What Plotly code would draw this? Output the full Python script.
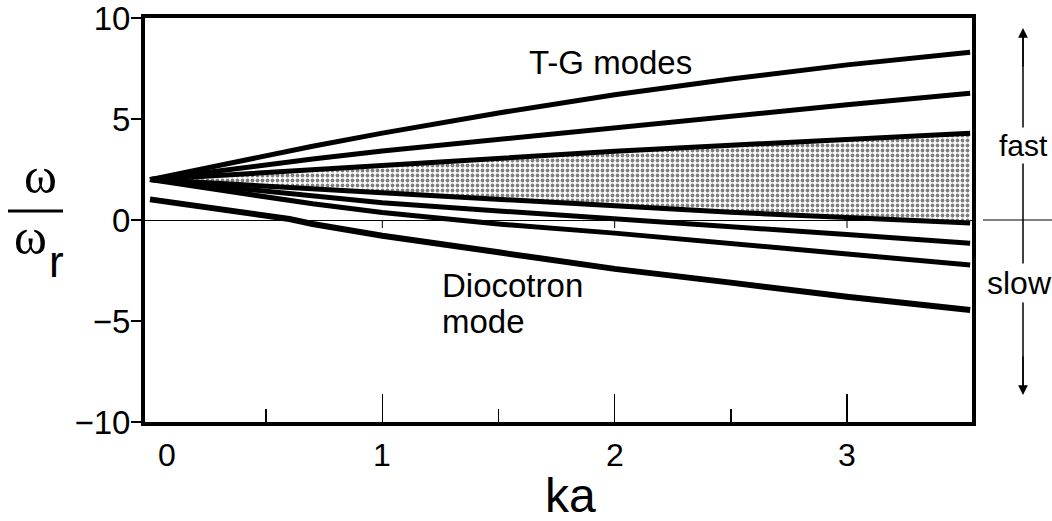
import plotly.graph_objects as go

# ---- data ----
KA = [0, 0.25, 0.5, 0.6, 0.7, 1.0, 1.5, 2.0, 2.5, 3.0, 3.53]
TG_1 = [2.0, 2.6, 3.2, 3.43, 3.65, 4.3, 5.3, 6.2, 6.98, 7.68, 8.3]
TG_2 = [2.0, 2.38, 2.75, 2.88, 3.02, 3.42, 4.0, 4.6, 5.15, 5.7, 6.27]
BAND_TOP = [2.0, 2.18, 2.36, 2.43, 2.5, 2.7, 3.07, 3.4, 3.7, 4.0, 4.3]
BAND_BOTTOM = [2.0, 1.84, 1.68, 1.62, 1.55, 1.36, 1.02, 0.68, 0.38, 0.12, -0.15]
TG_SLOW_1 = [2.0, 1.7, 1.4, 1.29, 1.18, 0.85, 0.45, 0.08, -0.3, -0.72, -1.15]
TG_SLOW_2 = [2.0, 1.55, 1.1, 0.95, 0.8, 0.37, -0.2, -0.65, -1.15, -1.68, -2.23]
DIOCOTRON = [1.02, 0.6, 0.2, 0.05, -0.2, -0.78, -1.6, -2.42, -3.1, -3.8, -4.46]

X_TICK_VALUES = [0, 1, 2, 3]
X_TICK_LABELS = ["0", "1", "2", "3"]
X_MINOR_TICKS = [0.5, 1.5, 2.5]
Y_TICK_VALUES = [-10, -5, 0, 5, 10]
Y_TICK_LABELS = ["\u221210", "\u22125", "0", "5", "10"]
ZERO_LINE_TICKS = [1, 2, 3]

FONT = "Liberation Sans, Arial, Helvetica, sans-serif"
SERIF = "Liberation Serif, Times New Roman, serif"

fig = go.Figure()

# shaded continuum band
fig.add_trace(go.Scatter(x=KA, y=BAND_BOTTOM, mode="lines",
                         line=dict(color="black", width=5), showlegend=False))
fig.add_trace(go.Scatter(x=KA, y=BAND_TOP, mode="lines", fill="tonexty",
                         fillcolor="white",
                         fillpattern=dict(shape=".", size=5, solidity=0.45,
                                          fgcolor="black", bgcolor="white",
                                          fillmode="overlay"),
                         line=dict(color="black", width=5), showlegend=False))

for ys, w in [(TG_1, 5), (TG_2, 5), (TG_SLOW_1, 5), (TG_SLOW_2, 5), (DIOCOTRON, 6)]:
    fig.add_trace(go.Scatter(x=KA, y=ys, mode="lines",
                             line=dict(color="black", width=w), showlegend=False))

fig.update_xaxes(range=[-0.0215, 3.538], showgrid=False, zeroline=False,
                 automargin=False,
                 showline=True, linecolor="black", linewidth=4, mirror=True,
                 tickvals=X_TICK_VALUES[1:], ticks="inside", ticklen=28,
                 tickwidth=1.5, tickcolor="black", showticklabels=False,
                 minor=dict(tickvals=X_MINOR_TICKS, ticks="inside", ticklen=13,
                            tickwidth=1.5, tickcolor="black"))
fig.update_yaxes(range=[-10, 10], showgrid=False, zeroline=True,
                 automargin=False, ticklabeloverflow="allow",
                 ticklabelstandoff=-6,
                 zerolinecolor="black", zerolinewidth=1,
                 showline=True, linecolor="black", linewidth=4, mirror=True,
                 tickvals=Y_TICK_VALUES, ticktext=Y_TICK_LABELS,
                 ticks="outside", ticklen=10, tickwidth=2.5, tickcolor="black",
                 tickfont=dict(family=FONT, size=33, color="black"))

ann = []
# x tick labels
for v, t in zip(X_TICK_VALUES, X_TICK_LABELS):
    ann.append(dict(x=v, y=0, xref="x", yref="paper", text=t, showarrow=False,
                    xanchor="center", yanchor="top", yshift=-13,
                    xshift=17 if v == 0 else 0,
                    font=dict(family=FONT, size=32, color="black")))
# x axis title
ann.append(dict(x=(570 - 145) / 827, y=0, xref="paper", yref="paper", text="ka",
                showarrow=False, xanchor="center", yanchor="middle",
                yshift=-(495 - 422),
                font=dict(family=FONT, size=48, color="black")))
# y axis title as fraction
ann.append(dict(x=(40 - 145) / 827, y=(220 - 176) / 20.2, xref="paper", yref="y",
                text="\u03c9", showarrow=False, xanchor="center", yanchor="middle",
                font=dict(family=SERIF, size=50, color="black")))
ann.append(dict(x=(31 - 145) / 827, y=(220 - 237) / 20.2, xref="paper", yref="y",
                text="\u03c9", showarrow=False, xanchor="center", yanchor="middle",
                font=dict(family=SERIF, size=50, color="black")))
ann.append(dict(x=(47 - 145) / 827, y=(220 - 261) / 20.2, xref="paper", yref="y",
                text="r", showarrow=False, xanchor="left", yanchor="middle",
                font=dict(family=FONT, size=44, color="black")))
# curve labels
ann.append(dict(x=(527 - 145) / 827, y=(220 - 62) / 20.2, xref="paper", yref="y",
                text="T-G modes", showarrow=False, xanchor="left", yanchor="middle",
                font=dict(family=FONT, size=33, color="black")))
ann.append(dict(x=(440 - 145) / 827, y=(220 - 285) / 20.2, xref="paper", yref="y",
                text="Diocotron", showarrow=False, xanchor="left", yanchor="middle",
                font=dict(family=FONT, size=33, color="black")))
ann.append(dict(x=(440 - 145) / 827, y=(220 - 321) / 20.2, xref="paper", yref="y",
                text="mode", showarrow=False, xanchor="left", yanchor="middle",
                font=dict(family=FONT, size=33, color="black")))
# fast / slow indicator
AX = (1023 - 145) / 827
ann.append(dict(x=AX, y=9.5, xref="paper", yref="y", text="", showarrow=True,
                ax=0, ay=40, arrowhead=2, arrowsize=1.3, arrowwidth=1.5,
                arrowcolor="black"))
ann.append(dict(x=AX, y=-8.66, xref="paper", yref="y", text="", showarrow=True,
                ax=0, ay=-40, arrowhead=2, arrowsize=1.3, arrowwidth=1.5,
                arrowcolor="black"))
ann.append(dict(x=AX, y=3.7, xref="paper", yref="y", text="fast", showarrow=False,
                xanchor="center", yanchor="middle", bgcolor="white",
                font=dict(family=FONT, size=30, color="black")))
ann.append(dict(x=AX, y=-3.1, xref="paper", yref="y", text="slow", showarrow=False,
                xanchor="center", yanchor="middle", bgcolor="white",
                xshift=-4,
                font=dict(family=FONT, size=32, color="black")))

shapes = [
    # fraction bar
    dict(type="line", xref="paper", yref="paper",
         x0=(8 - 145) / 827, x1=(63 - 145) / 827,
         y0=(422 - 211) / 404, y1=(422 - 211) / 404,
         line=dict(color="black", width=3)),
    # vertical arrow shaft
    dict(type="line", xref="paper", yref="y", x0=AX, x1=AX, y0=-8.3, y1=9.1,
         line=dict(color="black", width=1.5), layer="below"),
    # horizontal reference line at right
    dict(type="line", xref="paper", yref="y", x0=(983 - 145) / 827,
         x1=(1052 - 145) / 827, y0=0, y1=0, line=dict(color="black", width=1.2)),
]
for v in ZERO_LINE_TICKS:
    shapes.append(dict(type="line", xref="x", yref="y", x0=v, x1=v, y0=0, y1=-0.4,
                       line=dict(color="black", width=1)))

fig.update_layout(width=1052, height=521, autosize=False,
                  margin=dict(l=145, r=80, t=18, b=99),
                  paper_bgcolor="white", plot_bgcolor="white",
                  annotations=ann, shapes=shapes, showlegend=False)

# remove the default 8px page margin so the figure fills the window exactly
fig.write_html("out.html",
               config={"displayModeBar": False, "staticPlot": True},
               post_script="document.body.style.margin='0';"
                           "document.body.style.overflow='hidden';")
